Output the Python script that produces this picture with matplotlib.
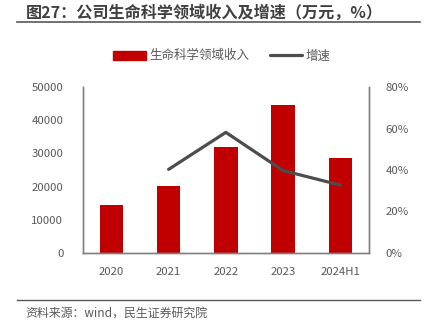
import matplotlib
matplotlib.use("Agg")
import matplotlib.pyplot as plt
from matplotlib.lines import Line2D
import numpy as np

plt.rcParams['font.family'] = ['Noto Sans CJK SC', 'DejaVu Sans']

# data
years = ['2020', '2021', '2022', '2023', '2024H1']
revenue = [14400, 20200, 31900, 44600, 28500]       # 万元
growth_years = ['2021', '2022', '2023', '2024H1']
growth = [40.3, 58.2, 39.7, 32.7]                   # %
left_ticks = [0, 10000, 20000, 30000, 40000, 50000]
right_ticks = [0, 20, 40, 60, 80]

red = '#C00000'
line_col = '#4D4D4D'
tick_col = '#595959'
spine_col = '#808080'

fig = plt.figure(figsize=(4.25, 3.29), dpi=100)
ax = fig.add_axes([82.7 / 425, 1 - 252.7 / 329, (369 - 82.7) / 425, (252.7 - 87.3) / 329])

x = np.arange(len(years))
ax.bar(x, revenue, width=0.41, color=red, label='生命科学领域收入', zorder=2)
ax.set_xlim(-0.5, len(years) - 0.5)
ax.set_ylim(0, 50000)
ax.set_yticks(left_ticks)
ax.set_xticks(x)
ax.set_xticklabels(years)

ax2 = ax.twinx()
gx = [years.index(y) for y in growth_years]
ax2.plot(gx, growth, color=line_col, lw=2.3, solid_capstyle='round', zorder=3)
ax2.set_ylim(0, 80)
ax2.set_yticks(right_ticks)
ax2.set_yticklabels([f'{v}%' for v in right_ticks])

for a in (ax, ax2):
    a.spines['top'].set_visible(False)
    for s in ('left', 'right', 'bottom'):
        a.spines[s].set_color(spine_col)
        a.spines[s].set_linewidth(1.0)
    a.tick_params(length=0, labelsize=8.2, labelcolor=tick_col)
ax.tick_params(axis='y', pad=14)
ax.tick_params(axis='x', pad=10)
ax2.tick_params(axis='y', pad=12)

handles = [plt.Rectangle((0, 0), 1, 1, color=red),
           Line2D([0], [0], color=line_col, lw=2.3, solid_capstyle='round')]
fig.legend(handles, ['生命科学领域收入', '增速'], loc='center',
           bbox_to_anchor=(222 / 425, 1 - 56 / 329), ncol=2, frameon=False,
           fontsize=9, labelcolor=tick_col, handlelength=2.6, handletextpad=0.3,
           columnspacing=1.6)

# title and footer
fig.text(26 / 425, 1 - 13 / 329, '图27：公司生命科学领域收入及增速（万元，%）',
         fontsize=11.6, fontweight='bold', color='#404040', va='center', ha='left')
fig.add_artist(Line2D([17 / 425, 420 / 425], [1 - 22 / 329, 1 - 22 / 329],
                      color='#595959', lw=1.2))
fig.add_artist(Line2D([17 / 425, 420 / 425], [1 - 300 / 329, 1 - 300 / 329],
                      color='#595959', lw=1.0))
fig.text(25 / 425, 1 - 313 / 329, '资料来源：wind，民生证券研究院',
         fontsize=8.6, color=tick_col, va='center', ha='left')

fig.savefig('out.png', dpi=100)
